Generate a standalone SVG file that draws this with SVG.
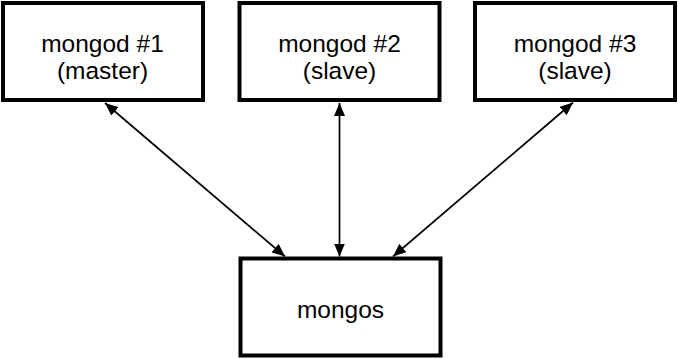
<svg xmlns="http://www.w3.org/2000/svg" width="678" height="359" viewBox="0 0 678 359">
  <style>
    .box { fill: #ffffff; stroke: #000000; stroke-width: 4; }
    .label { font-family: "Liberation Sans", Arial, sans-serif; font-size: 24.5px; fill: #000000; text-anchor: middle; }
    .link { stroke: #000000; stroke-width: 1.7; fill: none; marker-start: url(#head); marker-end: url(#head); }
  </style>
  <defs>
    <marker id="head" viewBox="0 0 13 11" refX="13" refY="5.5" markerWidth="13" markerHeight="11" markerUnits="userSpaceOnUse" orient="auto-start-reverse">
      <path d="M0,0 L13,5.5 L0,11 Z" fill="#000000"/>
    </marker>
  </defs>
  <rect width="678" height="359" fill="#ffffff"/>

  <g id="connectors">
    <line class="link" x1="105" y1="103" x2="285" y2="256.5"/>
    <line class="link" x1="339.5" y1="103" x2="339.5" y2="256.5"/>
    <line class="link" x1="573" y1="102.5" x2="393" y2="256.5"/>
  </g>

  <g id="mongod1">
    <rect class="box" x="3" y="3" width="200" height="97"/>
    <text class="label" x="102.5" y="51.5">mongod #1</text>
    <text class="label" x="102.5" y="78.5">(master)</text>
  </g>

  <g id="mongod2">
    <rect class="box" x="239.5" y="3" width="200" height="97"/>
    <text class="label" x="339.5" y="51.5">mongod #2</text>
    <text class="label" x="339.5" y="78.5">(slave)</text>
  </g>

  <g id="mongod3">
    <rect class="box" x="475" y="3" width="200" height="97"/>
    <text class="label" x="575" y="51.5">mongod #3</text>
    <text class="label" x="575" y="78.5">(slave)</text>
  </g>

  <g id="mongos">
    <rect class="box" x="240.5" y="258.5" width="200" height="97"/>
    <text class="label" x="340.5" y="318">mongos</text>
  </g>
</svg>
